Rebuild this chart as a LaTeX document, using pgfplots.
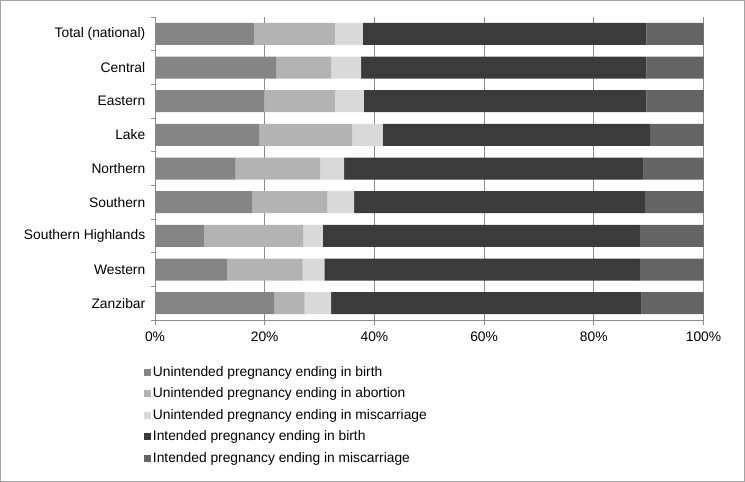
\documentclass[border=0pt]{standalone}
\usepackage{pgfplots}
\pgfplotsset{compat=1.18}
\usepackage{fontspec}
\setmainfont{Liberation Sans}
\definecolor{c1}{HTML}{858585}
\definecolor{c2}{HTML}{B3B3B3}
\definecolor{c3}{HTML}{D9D9D9}
\definecolor{c4}{HTML}{3B3B3B}
\definecolor{c5}{HTML}{646464}
\definecolor{ax}{HTML}{8C8C8C}
\begin{document}
\fontsize{13.8bp}{16bp}\selectfont
\begin{tikzpicture}
\useasboundingbox (0,0) rectangle (745bp,482bp);
\draw[ax!80, line width=0.8bp] (0.5bp,0.5bp) rectangle (744.5bp,481.5bp);
\begin{axis}[
  at={(155bp,162bp)}, anchor=south west,
  scale only axis, width=548.5bp, height=303bp,
  xbar stacked, bar width=22bp,
  xmin=0, xmax=100, ymin=-0.5, ymax=8.5, y dir=reverse,
  ytick={0,...,8},
  yticklabels={Total (national),Central,Eastern,Lake,Northern,Southern,Southern Highlands,Western,Zanzibar},
  minor ytick={-0.5,0.5,...,8.5},
  major y tick style={draw=none},
  minor tick length=4bp,
  major tick length=5bp,
  axis x line*=bottom, axis y line*=left,
  axis line style={-, ax, line width=0.8bp},
  tick style={ax, line width=0.8bp},
  tick align=outside,
  xtick={0,20,...,100},
  xticklabel={\pgfmathprintnumber{\tick}\%},
  xticklabel style={yshift=-2bp},
  xmajorgrids, grid style={ax, line width=0.8bp},
  ticklabel style={font=\fontsize{13.8bp}{16bp}\selectfont, text=black},
  /pgf/number format/assume math mode=true,
  legend style={draw=none, fill=none, at={(-0.025,-0.14)}, anchor=north west,
    font=\fontsize{13.8bp}{16bp}\selectfont, row sep=6.5bp,
    nodes={inner sep=1.5bp},
    /tikz/every even column/.append style={column sep=2bp}},
  legend cell align=left,
  legend image code/.code={\fill[#1] (0bp,-3.5bp) rectangle (7bp,3.5bp);},
]
\addplot[fill=c1, draw=none] coordinates {(18.1,0) (22.1,1) (19.9,2) (19.0,3) (14.7,4) (17.7,5) (8.9,6) (13.2,7) (21.7,8)};
\addplot[fill=c2, draw=none] coordinates {(14.7,0) (10.0,1) (12.9,2) (17.0,3) (15.4,4) (13.7,5) (18.1,6) (13.7,7) (5.6,8)};
\addplot[fill=c3, draw=none] coordinates {(5.1,0) (5.5,1) (5.3,2) (5.5,3) (4.4,4) (4.9,5) (3.6,6) (4.0,7) (4.8,8)};
\addplot[fill=c4, draw=none] coordinates {(51.7,0) (52.0,1) (51.5,2) (48.7,3) (54.6,4) (53.0,5) (57.8,6) (57.5,7) (56.6,8)};
\addplot[fill=c5, draw=none] coordinates {(10.4,0) (10.4,1) (10.4,2) (9.8,3) (10.9,4) (10.7,5) (11.6,6) (11.6,7) (11.3,8)};
\legend{Unintended pregnancy ending in birth,Unintended pregnancy ending in abortion,Unintended pregnancy ending in miscarriage,Intended pregnancy ending in birth,Intended pregnancy ending in miscarriage}
\end{axis}
\end{tikzpicture}
\end{document}
